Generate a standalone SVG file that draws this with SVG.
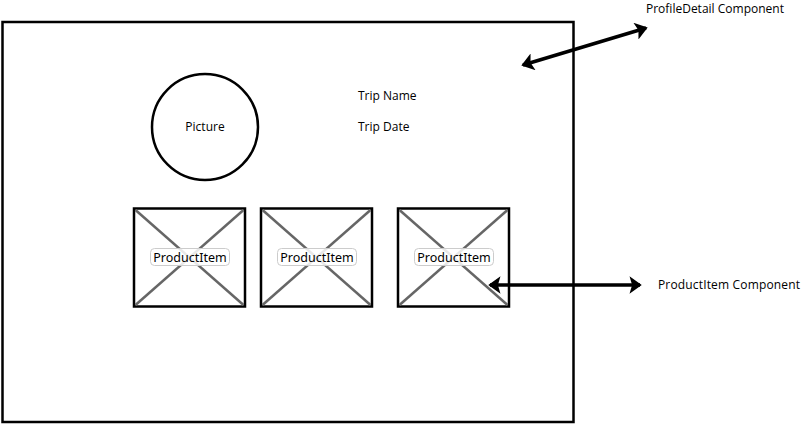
<svg xmlns="http://www.w3.org/2000/svg" width="803" height="425" viewBox="0 0 803 425">
<defs>
<style>
.t{font-family:"Open Sans","Liberation Sans",sans-serif;font-size:12px;fill:#000}
.box{fill:#fff;stroke:#000;stroke-width:2.5}
.x{stroke:#666;stroke-width:2.5}
.lbl{fill:#fff;fill-opacity:0.85;stroke:#ccc;stroke-width:1}
.pl{font-family:"Noto Sans","Liberation Sans",sans-serif;font-size:12.5px;fill:#000}
.arr{stroke:#000;stroke-width:3.5;fill:none}
</style>
<marker id="ah" viewBox="0 0 10 10" refX="9" refY="5" markerWidth="5" markerHeight="5" orient="auto-start-reverse" markerUnits="strokeWidth">
<path d="M3,0 L10,5 L3,10 L4.5,5 Z" fill="#000"/>
</marker>
</defs>
<rect width="803" height="425" fill="#fff"/>
<g id="profileDetail">
<rect x="2.5" y="22" width="571" height="400" fill="#fff" stroke="#000" stroke-width="2.5"/>
</g>
<g id="picture">
<circle cx="205" cy="127" r="53" fill="#fff" stroke="#000" stroke-width="2.5"/>
<text class="t" x="205" y="131" text-anchor="middle">Picture</text>
</g>
<g id="tripName"><text class="t" x="358" y="100">Trip Name</text></g>
<g id="tripDate"><text class="t" x="358" y="131">Trip Date</text></g>
<g id="productItem1">
<rect class="box" x="134" y="208.5" width="111" height="98"/>
<line class="x" x1="135.5" y1="210" x2="243.5" y2="305"/>
<line class="x" x1="243.5" y1="210" x2="135.5" y2="305"/>
<rect class="lbl" x="150.5" y="248.5" width="79" height="17" rx="4"/>
<text class="pl" x="190" y="262" text-anchor="middle">ProductItem</text>
</g>
<g id="productItem2">
<rect class="box" x="261" y="208.5" width="111" height="98"/>
<line class="x" x1="262.5" y1="210" x2="370.5" y2="305"/>
<line class="x" x1="370.5" y1="210" x2="262.5" y2="305"/>
<rect class="lbl" x="277.5" y="248.5" width="79" height="17" rx="4"/>
<text class="pl" x="317" y="262" text-anchor="middle">ProductItem</text>
</g>
<g id="productItem3">
<rect class="box" x="398" y="208.5" width="111" height="98"/>
<line class="x" x1="399.5" y1="210" x2="507.5" y2="305"/>
<line class="x" x1="507.5" y1="210" x2="399.5" y2="305"/>
<rect class="lbl" x="414.5" y="248.5" width="79" height="17" rx="4"/>
<text class="pl" x="454" y="262" text-anchor="middle">ProductItem</text>
</g>
<g id="connectors">
<line class="arr" x1="523" y1="65" x2="646" y2="28" marker-start="url(#ah)" marker-end="url(#ah)"/>
<line class="arr" x1="490" y1="285" x2="640" y2="285" marker-start="url(#ah)" marker-end="url(#ah)"/>
</g>
<g id="labels">
<text class="t" x="646" y="13">ProfileDetail Component</text>
<text class="t" x="658" y="289" textLength="142">ProductItem Component</text>
</g>
</svg>
